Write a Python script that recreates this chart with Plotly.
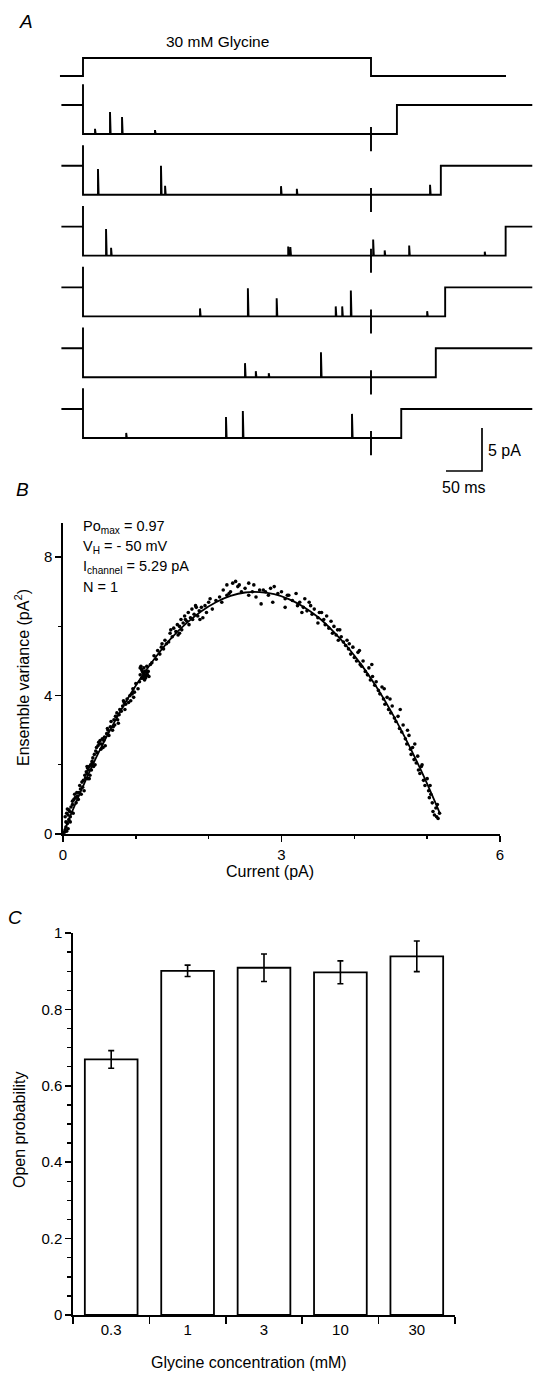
import plotly.graph_objects as go

W, H = 551, 1388
FONT = "Liberation Sans, Arial, Helvetica, sans-serif"

# ---------------- Panel A data (single-channel traces) ----------------
glycine_on_off = [0, 400]            # ms, solution exchange
trace_start = -30                    # ms
trace_end = 624                      # ms
open_amp = 3.37                      # pA, unitary step as drawn
close_times = [436, 497, 587, 503, 490, 442]   # ms, final closing of each trace
spike_times = [
    [16.7, 37.5, 54.2, 100],
    [20.8, 108.3, 114, 275, 297, 482],
    [32, 39, 285, 288, 403, 419, 453, 558],
    [162.5, 229, 269, 351, 360, 372, 478],
    [225, 240, 258, 330.5],
    [60, 198.6, 222, 373.6],
]
spike_amps = [
    [0.6, 2.56, 1.98, 0.45],
    [3.0, 3.37, 1.05, 1.0, 0.7, 1.16],
    [3.1, 0.9, 1.05, 1.0, 1.86, 0.6, 1.16, 0.45],
    [0.93, 3.26, 2.1, 1.16, 1.16, 3.0, 0.6],
    [1.63, 0.7, 0.47, 2.9],
    [0.58, 2.44, 3.14, 2.8],
]
onset_artifact = 2.4      # pA
offset_artifact = [0.8, -2.0]  # pA
scale_bar_pA = 5
scale_bar_ms = 50

# ---------------- Panel B data (noise analysis) ----------------
var_I = [0.02,0.03,0.04,0.05,0.06,0.04,0.07,0.08,0.03,0.05,0.07,0.09,0.1,0.12,0.06,0.11,0.14,0.13,0.15,0.17,
         0.18,0.2,0.16,0.22,0.21,0.24,0.25,0.27,0.26,0.28,0.3,0.31,0.32,0.33,0.34,0.35,0.36,0.37,0.38,0.33,
         0.36,0.39,0.4,0.42,0.41,0.43,0.45,0.46,0.47,0.48,0.5,0.52,0.49,0.51,0.53,0.55,0.54,0.57,0.58,0.6,
         0.62,0.63,0.65,0.66,0.68,0.7,0.72,0.71,0.74,0.75,0.77,0.78,0.8,0.82,0.83,0.85,0.86,0.88,0.9,0.92,
         0.93,0.95,0.97,0.98,1.05,1.06,1.08,1.08,1.1,1.1,1.11,1.12,1.12,1.13,1.14,1.15,1.15,1.17,1.18,1.03,
         1.0,1.2,1.07,1.22,1.25,1.28,1.3,1.33,1.35,1.38,1.4,1.42,1.45,1.47,1.5,1.52,1.55,1.57,1.58,1.6,
         1.62,1.63,1.65,1.67,1.7,1.72,1.73,1.75,1.77,1.78,1.8,1.82,1.85,1.87,1.9,1.92,1.95,1.97,2.0,2.05,
         2.1,2.15,2.2,2.25,2.25,2.3,2.33,2.37,2.4,2.45,2.5,2.55,2.55,2.6,2.65,2.7,2.72,2.78,2.82,2.85,
         2.9,2.95,3.0,3.05,3.05,3.1,3.15,3.2,3.22,3.25,3.3,3.32,3.35,3.4,3.42,3.45,3.5,3.5,3.55,3.58,
         3.6,3.65,3.68,3.7,3.72,3.75,3.78,3.8,3.82,3.85,3.88,3.9,3.92,3.95,3.98,4.0,4.03,4.05,4.08,4.1,
         4.12,4.15,4.18,4.2,4.22,4.25,4.28,4.3,4.33,4.35,4.38,4.4,4.42,4.45,4.47,4.5,4.52,4.55,4.57,4.6,
         4.62,4.65,4.67,4.7,4.72,4.75,4.77,4.78,4.8,4.82,4.85,4.87,4.88,4.9,4.92,4.95,4.97,5.0,5.02,5.03,
         5.05,5.07,5.08,5.1,5.12,5.13,5.15,5.17,
         0.08,0.1,0.13,0.19,0.23,0.29,0.34,0.4,0.44,0.56,0.61,0.69,0.76,0.84,0.96,1.09,1.13,1.16,1.11,1.06,
         1.36,1.48,1.6,1.68,1.83,1.88,2.02,2.18,2.28,2.42,2.62,2.75,2.88,3.08,3.28,3.38,3.52,3.62,3.77,3.93,
         4.07,4.24,4.41,4.49,4.63,4.73,4.83,4.93,5.04,5.14]
var_V = [0.05,0.12,0.2,0.08,0.3,0.35,0.15,0.42,0.5,0.6,0.55,0.65,0.5,0.62,0.72,0.78,0.6,0.85,1.0,1.05,
         0.9,1.1,1.15,1.2,1.0,1.3,1.15,1.35,1.5,1.55,1.7,1.62,1.8,1.75,1.9,1.85,1.95,1.7,2.0,1.95,
         1.6,1.85,2.05,1.95,2.2,2.3,2.4,2.5,2.35,2.55,2.6,2.45,2.65,2.7,2.6,2.5,2.75,2.8,2.55,2.9,
         3.0,2.85,3.1,3.25,3.0,3.3,3.4,3.15,3.5,3.3,3.45,3.6,3.55,3.7,3.85,3.6,3.75,3.9,3.8,4.0,
         3.85,4.05,3.95,4.1,4.4,4.6,4.5,4.75,4.65,4.5,4.8,4.6,4.45,4.7,4.55,4.85,4.65,4.7,4.55,4.2,
         4.35,4.9,4.85,4.95,5.15,5.05,5.3,5.2,5.4,5.35,5.6,5.5,5.55,5.8,5.7,5.95,5.85,6.05,5.75,6.0,
         6.2,5.9,6.1,6.3,6.15,6.4,6.05,6.25,6.5,6.2,6.35,6.6,6.3,6.45,6.55,6.25,6.6,6.4,6.7,6.5,
         6.75,6.85,7.05,6.9,7.2,7.0,7.25,7.3,7.15,7.0,7.1,6.9,7.25,7.0,6.85,7.05,6.65,7.0,6.9,7.1,
         7.15,6.95,7.0,6.55,6.8,6.9,6.75,6.95,6.6,6.7,6.55,6.8,6.45,6.6,6.35,6.5,6.25,6.1,6.4,6.2,
         6.05,5.95,6.15,5.8,6.0,5.75,5.6,5.9,5.7,5.55,5.45,5.6,5.35,5.2,5.4,5.1,5.0,5.25,4.9,4.85,
         5.0,4.7,4.6,4.8,4.45,4.55,4.3,4.4,4.15,4.05,4.25,3.9,3.75,3.95,3.6,3.5,3.7,3.35,3.25,3.4,
         3.05,2.95,3.15,2.75,2.6,2.85,2.45,2.3,2.5,2.15,2.05,2.25,1.85,1.75,1.95,1.55,1.4,1.6,1.25,1.05,
         1.15,0.9,0.65,0.55,0.75,0.5,0.45,0.6,
         0.7,0.35,0.95,1.2,1.4,1.25,1.6,2.1,2.0,2.7,3.05,3.1,3.2,3.8,4.2,4.7,4.5,4.6,4.55,4.8,
         5.5,5.9,5.8,6.2,6.55,6.2,6.8,6.7,6.95,7.2,7.2,7.05,6.7,6.9,6.4,6.7,6.4,6.3,5.9,5.5,
         5.3,4.9,4.2,3.9,3.6,3.0,2.6,2.0,1.4,0.85]
fit_I = [0, 0.1, 0.2, 0.3, 0.4, 0.5, 0.7, 0.9, 1.1, 1.3, 1.5, 1.7, 1.9, 2.1, 2.3, 2.5, 2.7, 2.9,
         3.1, 3.3, 3.5, 3.7, 3.9, 4.1, 4.3, 4.5, 4.7, 4.9, 5.05, 5.17]
fit_V = [0, 0.52, 1.02, 1.50, 1.96, 2.40, 3.21, 3.95, 4.61, 5.19, 5.69, 6.10, 6.44, 6.70, 6.88, 6.98,
         6.99, 6.93, 6.79, 6.57, 6.27, 5.88, 5.42, 4.88, 4.26, 3.56, 2.77, 1.91, 1.21, 0.62]
fit_text = ["Po<sub>max</sub> = 0.97", "V<sub>H</sub> = - 50 mV",
            "I<sub>channel</sub> = 5.29 pA", "N = 1"]

# ---------------- Panel C data ----------------
conc_labels = ["0.3", "1", "3", "10", "30"]
open_prob = [0.669, 0.901, 0.909, 0.897, 0.939]
open_prob_err = [0.023, 0.015, 0.036, 0.030, 0.040]


def px(x):
    return x / W


def py(y):
    return 1 - y / H


fig = go.Figure()

# ---- Panel A geometry (pixel-based mapping of ms and pA) ----
PX_PER_MS = 0.72
PX_PER_PA = 8.6
T0_PX = 83.0
A_BOTTOM_PX = 500.0
xA_range = [-T0_PX / PX_PER_MS, (W - T0_PX) / PX_PER_MS]
yA_range = [0, A_BOTTOM_PX / PX_PER_PA]


def vA(pix):
    return (A_BOTTOM_PX - pix) / PX_PER_PA


first_base_px = 105.0
trace_gap_px = 60.8
line_style = dict(color="black", width=1.9)

# glycine application step
g_low, g_high = vA(76), vA(58)
fig.add_trace(go.Scatter(
    x=[-32, glycine_on_off[0], glycine_on_off[0], glycine_on_off[1], glycine_on_off[1], 587.5],
    y=[g_low, g_low, g_high, g_high, g_low, g_low],
    mode="lines", line=dict(color="black", width=1.9), xaxis="x", yaxis="y",
    hoverinfo="skip", showlegend=False))

for k in range(len(close_times)):
    base = vA(first_base_px + k * trace_gap_px)
    opn = base - open_amp
    xs = [trace_start, 0, 0, 0]
    ys = [base, base, base + onset_artifact, opn]
    events = [(t, a, "s") for t, a in zip(spike_times[k], spike_amps[k])]
    events.append((glycine_on_off[1], 0, "a"))
    events.sort(key=lambda e: e[0])
    for t, a, kind in events:
        if kind == "s":
            xs += [t, t, t + 0.9, t + 0.9]
            ys += [opn, opn + a, opn + a, opn]
        else:
            xs += [t, t, t, t]
            ys += [opn, opn + offset_artifact[0], opn + offset_artifact[1], opn]
    xs += [close_times[k], close_times[k], trace_end]
    ys += [opn, base, base]
    fig.add_trace(go.Scatter(x=xs, y=ys, mode="lines", line=line_style,
                             xaxis="x", yaxis="y", hoverinfo="skip", showlegend=False))

# scale bar
sb_t = (482 - T0_PX) / PX_PER_MS
sb_y = vA(471)
fig.add_trace(go.Scatter(
    x=[sb_t - scale_bar_ms, sb_t, sb_t], y=[sb_y, sb_y, sb_y + scale_bar_pA],
    mode="lines", line=dict(color="black", width=1.7), xaxis="x", yaxis="y",
    hoverinfo="skip", showlegend=False))

# ---- Panel B ----
fig.add_trace(go.Scatter(x=var_I, y=var_V, mode="markers",
                         marker=dict(color="black", size=3.6),
                         xaxis="x2", yaxis="y2", cliponaxis=False,
                         hoverinfo="skip", showlegend=False))
fig.add_trace(go.Scatter(x=fit_I, y=fit_V, mode="lines",
                         line=dict(color="black", width=1.8, shape="spline"),
                         xaxis="x2", yaxis="y2", hoverinfo="skip", showlegend=False))

# ---- Panel C ----
fig.add_trace(go.Bar(x=conc_labels, y=open_prob, width=0.69,
                     marker=dict(color="white", line=dict(color="black", width=1.8)),
                     error_y=dict(type="data", array=open_prob_err, color="black",
                                  thickness=1.6, width=3),
                     xaxis="x3", yaxis="y3", hoverinfo="skip", showlegend=False))

hidden = dict(visible=False, showgrid=False, zeroline=False, automargin=False)
axis_common = dict(showline=True, linecolor="black", linewidth=1.6, ticks="outside",
                   tickcolor="black", tickwidth=1.6, showgrid=False, zeroline=False,
                   automargin=False,
                   tickfont=dict(family=FONT, size=15, color="black"))

fig.update_layout(
    template="none",
    width=W, height=H, autosize=False, margin=dict(l=0, r=0, t=0, b=0, pad=0),
    paper_bgcolor="white", plot_bgcolor="rgba(0,0,0,0)",
    font=dict(family=FONT, size=14, color="black"),
    showlegend=False,
    xaxis=dict(domain=[0, 1], range=xA_range, anchor="y", **hidden),
    yaxis=dict(domain=[py(A_BOTTOM_PX), 1], range=yA_range, anchor="x", **hidden),
    xaxis2=dict(domain=[px(63), px(500)], range=[0, 6], anchor="y2",
                tickvals=[0, 3, 6], ticklen=6,
                minor=dict(dtick=1, tick0=0, ticklen=3, ticks="outside",
                           tickcolor="black", tickwidth=1.4),
                **axis_common),
    yaxis2=dict(domain=[py(834), py(834 - 9 * 34.6)], range=[0, 9], anchor="x2",
                tickvals=[0, 4, 8], ticklen=6,
                minor=dict(dtick=2, tick0=0, ticklen=3, ticks="outside",
                           tickcolor="black", tickwidth=1.4),
                **axis_common),
    xaxis3=dict(domain=[px(73), px(455)], range=[-0.5, 4.5], anchor="y3",
                type="category", tickson="boundaries", ticklen=7,
                **axis_common),
    yaxis3=dict(domain=[py(1315), py(933)], range=[0, 1], anchor="x3",
                dtick=0.2, tick0=0, ticklen=6,
                minor=dict(dtick=0.05, tick0=0, ticklen=4, ticks="outside",
                           tickcolor="black", tickwidth=1.4),
                **axis_common),
)

annots = []


def ann(text, x, y, size=14, xanchor="center", yanchor="middle", angle=0, italic=False):
    t = f"<i>{text}</i>" if italic else text
    annots.append(dict(text=t, x=px(x), y=py(y), xref="paper", yref="paper",
                       xanchor=xanchor, yanchor=yanchor, showarrow=False, textangle=angle,
                       font=dict(family=FONT, size=size, color="black")))


ann("A", 26, 22, size=19, italic=True)
ann("B", 22, 489, size=19, italic=True)
ann("C", 15, 917, size=19, italic=True)
ann("30 mM Glycine", 217, 41, size=15.5)
ann("5 pA", 486, 450, size=16, xanchor="left")
ann("50 ms", 464, 487, size=16)
for i, t in enumerate(fit_text):
    ann(t, 81, 527 + 20 * i, size=14.5, xanchor="left")
ann("Current (pA)", 270, 871, size=16)
ann("Ensemble variance (pA<sup>2</sup>)", 22, 678, size=16, angle=-90)
ann("Open probability", 19, 1130, size=16, angle=-90)
ann("Glycine concentration (mM)", 249, 1362, size=16)

fig.update_layout(annotations=annots)
fig.write_html("out.html",
               config={"displayModeBar": False, "staticPlot": True},
               post_script="document.body.style.margin='0';document.body.style.padding='0';"
                           "document.body.style.overflow='hidden';")
